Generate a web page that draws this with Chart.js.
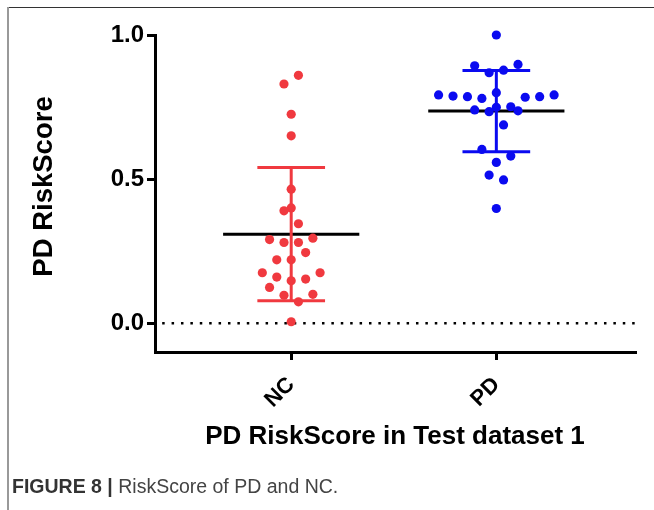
<!DOCTYPE html>
<html><head><meta charset="utf-8">
<script src="https://cdn.jsdelivr.net/npm/chart.js@4.4.1/dist/chart.umd.min.js"></script>
<style>
html,body{margin:0;padding:0;background:#fff;}
#wrap{position:relative;width:654px;height:510px;overflow:hidden;background:#fff;}
#c{position:absolute;left:0;top:0;}
#frameTop{position:absolute;left:7px;top:7px;width:647px;height:1px;background:#333;}
#frameLeft{position:absolute;left:7px;top:7px;width:2px;height:503px;background:#999;}
#caption{position:absolute;left:12px;top:477px;font:19.5px/19.5px "Liberation Sans",Arial,sans-serif;color:#444;white-space:nowrap;}
#caption b{color:#333;}
</style></head><body>
<div id="wrap">
<canvas id="c" width="654" height="510"></canvas>
<div id="frameTop"></div><div id="frameLeft"></div>
<div id="caption"><b>FIGURE 8 |</b> RiskScore of PD and NC.</div>
</div>
<script>
// ---- data ----
const categories = ['NC', 'PD'];
const yTickValues = [0, 0.5, 1.0];
const yTitle = 'PD RiskScore';
const xTitle = 'PD RiskScore in Test dataset 1';
const ncValues = [0.86, 0.83, 0.725, 0.65, 0.465, 0.40, 0.39, 0.345, 0.29, 0.295, 0.28, 0.28, 0.245, 0.22, 0.22, 0.175, 0.175, 0.16, 0.147, 0.153, 0.124, 0.097, 0.10, 0.074, 0.005];
const ncSlots = [1, -1, 0, 0, 0, 0, -1, 1, -3, 3, -1, 1, 2, -2, 0, -4, 4, -2, 0, 2, -3, -1, 3, 1, 0];
const pdValues = [1.0, 0.893, 0.898, 0.869, 0.878, 0.792, 0.788, 0.786, 0.78, 0.80, 0.784, 0.786, 0.792, 0.74, 0.734, 0.749, 0.751, 0.737, 0.688, 0.603, 0.58, 0.558, 0.514, 0.497, 0.398];
const pdSlots = [0, -3, 3, -1, 1, -8, -6, -4, -2, 0, 4, 6, 8, -3, -1, 0, 2, 3, 1, -2, 2, 0, -1, 1, 0];
const groupMeans = [0.309, 0.736];
const groupSDs = [0.231, 0.141];

// ---- styling constants ----
const RED = '#F0393F', BLUE = '#0A0AF0';
const SLOT = 0.0352, MEAN_HALF = 0.332, CAP_HALF = 0.165;
const X_MIN = 0.336, X_MAX = 2.676, Y_MIN = -0.1, Y_MAX = 1.0;
const FONT = "'Liberation Sans', Arial, sans-serif";

const groups = [
  {values: ncValues, slots: ncSlots, color: RED},
  {values: pdValues, slots: pdSlots, color: BLUE}
];

const datasets = [];
groups.forEach((g, gi) => {
  const cx = gi + 1;
  datasets.push({
    data: g.values.map((v, i) => ({x: cx + g.slots[i] * SLOT, y: v})),
    backgroundColor: g.color, pointRadius: 4.6, borderWidth: 0, showLine: false, order: 0, clip: false
  });
  const m = groupMeans[gi], sd = groupSDs[gi];
  const line = (pts, color, order) => ({
    data: pts, borderColor: color, borderWidth: 3, showLine: true, pointRadius: 0,
    borderCapStyle: 'butt', order: order, clip: false
  });
  datasets.push(line([{x: cx - MEAN_HALF, y: m}, {x: cx + MEAN_HALF, y: m}], '#000', 2));
  datasets.push(line([{x: cx, y: m - sd}, {x: cx, y: m + sd}], g.color, 1));
  datasets.push(line([{x: cx - CAP_HALF, y: m + sd}, {x: cx + CAP_HALF, y: m + sd}], g.color, 1));
  datasets.push(line([{x: cx - CAP_HALF, y: m - sd}, {x: cx + CAP_HALF, y: m - sd}], g.color, 1));
});
datasets.push({
  data: [{x: X_MIN + 0.035, y: 0}, {x: X_MAX, y: 0}], borderColor: '#000', borderWidth: 2.5,
  borderDash: [2.5, 6.9], borderCapStyle: 'butt', showLine: true, pointRadius: 0, order: 3
});

// y-axis title drawn beside the y scale, centred slightly above the axis middle as in the reference
const yTitlePlugin = {
  id: 'yTitle',
  afterDraw(chart) {
    const {ctx} = chart;
    const y = chart.scales.y;
    ctx.save();
    ctx.translate(44, (y.top + y.bottom) / 2 - 7);
    ctx.rotate(-Math.PI / 2);
    ctx.font = `bold 27.5px ${FONT}`;
    ctx.fillStyle = '#000';
    ctx.textAlign = 'center';
    ctx.textBaseline = 'middle';
    ctx.fillText(yTitle, 0, 0);
    ctx.restore();
  }
};

new Chart(document.getElementById('c'), {
  type: 'scatter',
  data: {datasets},
  plugins: [yTitlePlugin],
  options: {
    responsive: false, animation: false, events: [],
    layout: {padding: {top: 35, right: 19, left: 0, bottom: 0}},
    plugins: {legend: {display: false}, tooltip: {enabled: false}},
    scales: {
      x: {
        type: 'linear', min: X_MIN, max: X_MAX,
        afterBuildTicks: s => { s.ticks = [1, 2].map(v => ({value: v})); },
        afterFit: s => { s.height = 158; },
        ticks: {
          minRotation: 45, maxRotation: 45, padding: 12, color: '#000',
          font: {family: FONT, size: 22, weight: 'bold'},
          callback: v => categories[v - 1]
        },
        grid: {display: true, drawOnChartArea: false, drawTicks: true, tickLength: 8, lineWidth: 3, color: '#000', tickColor: '#000'},
        border: {display: true, width: 3, color: '#000'},
        title: {display: true, text: xTitle, color: '#000',
          font: {family: FONT, size: 26, weight: 'bold'}, padding: {top: 0, bottom: 58}}
      },
      y: {
        type: 'linear', min: Y_MIN, max: Y_MAX,
        afterBuildTicks: s => { s.ticks = yTickValues.map(v => ({value: v})); },
        afterFit: s => { s.width = 155; },
        ticks: {
          padding: 3, color: '#000', font: {family: FONT, size: 24, weight: 'bold'},
          callback: v => v.toFixed(1)
        },
        grid: {display: true, drawOnChartArea: false, drawTicks: true, tickLength: 8, lineWidth: 3, color: '#000', tickColor: '#000'},
        border: {display: true, width: 3, color: '#000'},
        title: {display: false}
      }
    }
  }
});
</script>
</body></html>
